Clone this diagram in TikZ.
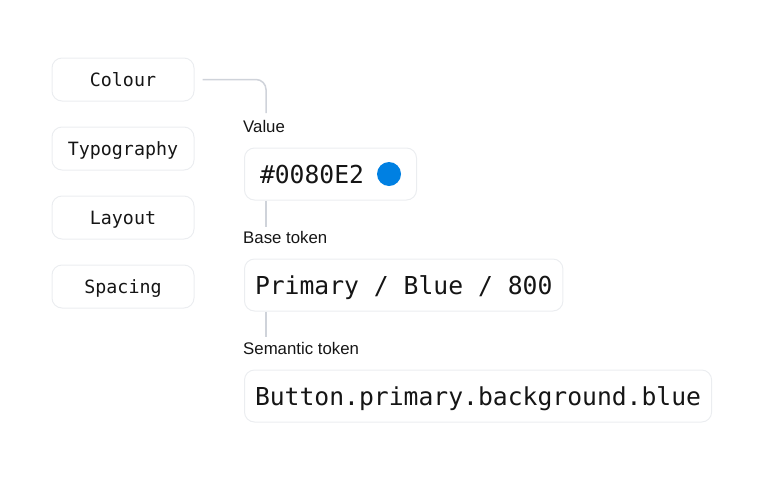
\documentclass[tikz,border=0pt]{standalone}
\usepackage{fontspec}
\setmainfont{Liberation Sans}
\setmonofont{DejaVu Sans Mono}
\usepackage{tikz}
\definecolor{boxline}{HTML}{EBEDF0}
\definecolor{linkline}{HTML}{CFD3DA}
\definecolor{ink}{HTML}{151515}
\definecolor{swatch}{HTML}{0080E2}
\tikzstyle{category} = [rectangle, rounded corners=10pt, draw=boxline, line width=1pt, minimum width=142pt, minimum height=43pt, text height=13.4pt, text depth=0pt, text=ink, font=\fontsize{18.3}{20}\selectfont\ttfamily, text centered]
\tikzstyle{token} = [rectangle, rounded corners=10pt, draw=boxline, line width=1pt, anchor=west, inner xsep=10.5pt, minimum height=52pt, text height=18pt, text depth=0pt, text=ink, font=\fontsize{24.7}{28}\selectfont\ttfamily]
\tikzstyle{caption} = [anchor=base west, inner sep=0pt, text=ink, font=\fontsize{16.8}{18}\selectfont]
\tikzstyle{link} = [linkline, line width=1.5pt]

\begin{document}
\begin{tikzpicture}[x=1pt, y=-1pt]
	\useasboundingbox (0,0) rectangle (765,480);
	\node (colour) at (123, 79.5) [category] {Colour};
	\node (typography) at (123, 148.5) [category] {Typography};
	\node (layout) at (123, 217.5) [category] {Layout};
	\node (spacing) at (123, 286.5) [category] {Spacing};
	\node (valuelbl) at (243, 132) [caption] {Value};
	\node (value) at (244, 174) [token, text width=151pt, align=left] {\hspace{5pt}\#0080E2};
	\node (dot) at (389, 174) [circle, fill=swatch, minimum size=24pt, inner sep=0pt] {};
	\node (baselbl) at (243, 243) [caption] {Base token};
	\node (base) at (244, 285) [token] {Primary / Blue / 800};
	\node (semanticlbl) at (243, 354) [caption] {Semantic token};
	\node (semantic) at (244, 396) [token] {Button.primary.background.blue};
	\coordinate (tap) at (266, 113);
	\draw[link, rounded corners=10pt, shorten <=8pt] (colour.east) -| (tap);
	\draw[link] (value.south west -| tap) -- ++(0,26);
	\draw[link] (base.south west -| tap) -- ++(0,25);
\end{tikzpicture}
\end{document}
